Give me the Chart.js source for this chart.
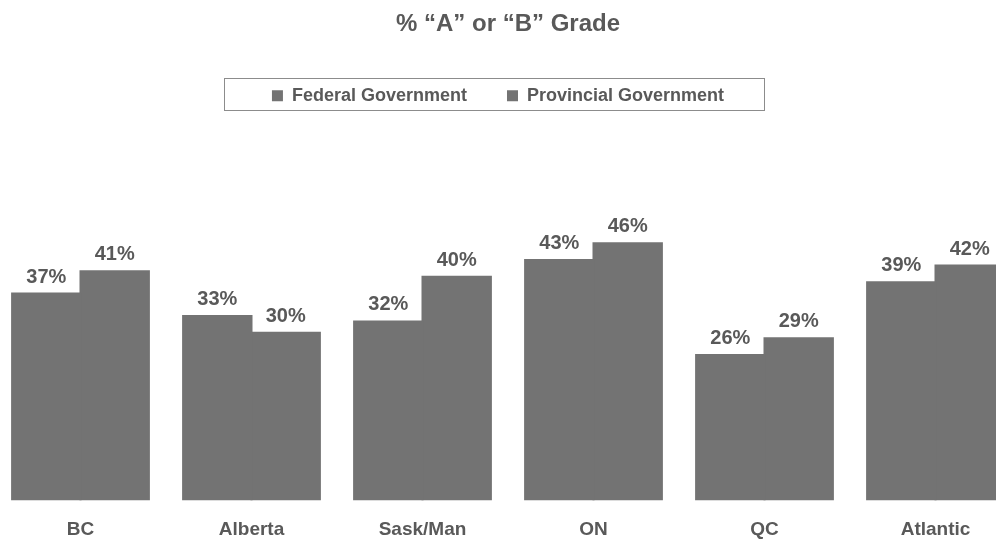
<!DOCTYPE html>
<html>
<head>
<meta charset="utf-8">
<script src="https://cdn.jsdelivr.net/npm/chart.js@4.4.1/dist/chart.umd.min.js"></script>
<style>
  html, body { margin: 0; padding: 0; background: #ffffff; overflow: hidden; width: 996px; height: 544px; }
  #wrap { position: absolute; left: -5px; top: 0; width: 1026px; height: 544px; }
</style>
</head>
<body>
<div id="wrap"><canvas id="c" width="1026" height="544"></canvas></div>
<script>
const categories = ["BC", "Alberta", "Sask/Man", "ON", "QC", "Atlantic"];
const seriesNames = ["Federal Government", "Provincial Government"];
const federalValues = [37, 33, 32, 43, 26, 39];
const provincialValues = [41, 30, 40, 46, 29, 42];
const chartTitle = "% \u201CA\u201D or \u201CB\u201D Grade";

const TEXT = "#595959";
const BAR = "#737373";
const FONT = "'Liberation Sans', Arial, sans-serif";

const valueLabels = {
  id: "valueLabels",
  afterDatasetsDraw(chart) {
    const ctx = chart.ctx;
    ctx.save();
    ctx.font = "bold 20px " + FONT;
    ctx.fillStyle = TEXT;
    ctx.textAlign = "center";
    ctx.textBaseline = "alphabetic";
    chart.data.datasets.forEach((ds, i) => {
      const meta = chart.getDatasetMeta(i);
      meta.data.forEach((bar, j) => {
        ctx.fillText(ds.data[j] + "%", bar.x, bar.y - 11);
      });
    });
    ctx.restore();
  }
};

const legendFrame = {
  id: "legendFrame",
  afterLayout(chart) {
    const l = chart.legend;
    l.left -= 10;
    l.right -= 10;
  },
  afterDraw(chart) {
    const hb = chart.legend.legendHitBoxes;
    if (!hb || !hb.length) return;
    const first = hb[0], last = hb[hb.length - 1];
    const cy = first.top + first.height / 2;
    const left = Math.round(first.left - 48) + 0.5;
    const right = Math.round(last.left + last.width + 40) + 0.5;
    const top = Math.round(cy - 18) + 0.5;
    const bottom = Math.round(cy + 14) + 0.5;
    const ctx = chart.ctx;
    ctx.save();
    ctx.strokeStyle = "#8c8c8c";
    ctx.lineWidth = 1;
    ctx.strokeRect(left, top, right - left, bottom - top);
    ctx.restore();
  }
};

new Chart(document.getElementById("c"), {
  type: "bar",
  data: {
    labels: categories,
    datasets: [
      { label: seriesNames[0], data: federalValues, backgroundColor: BAR, borderWidth: 0, inflateAmount: 1 },
      { label: seriesNames[1], data: provincialValues, backgroundColor: BAR, borderWidth: 0, inflateAmount: 1 }
    ]
  },
  options: {
    responsive: false,
    animation: false,
    events: [],
    layout: { padding: { top: 0, bottom: -15, left: 0, right: 0 } },
    datasets: { bar: { categoryPercentage: 0.8, barPercentage: 1.0 } },
    scales: {
      x: {
        grid: { display: false, drawTicks: false },
        border: { display: false },
        ticks: { color: TEXT, padding: 18, font: { family: FONT, size: 19, weight: "bold" } }
      },
      y: {
        display: false,
        min: 0,
        max: 69
      }
    },
    plugins: {
      tooltip: { enabled: false },
      title: {
        display: true,
        text: chartTitle,
        color: TEXT,
        font: { family: FONT, size: 24, weight: "bold" },
        padding: { top: 10, bottom: 8 }
      },
      legend: {
        display: true,
        position: "top",
        labels: {
          color: TEXT,
          boxWidth: 11,
          boxHeight: 11,
          padding: 40,
          font: { family: FONT, size: 18, weight: "bold" }
        }
      }
    }
  },
  plugins: [valueLabels, legendFrame]
});
</script>
</body>
</html>
